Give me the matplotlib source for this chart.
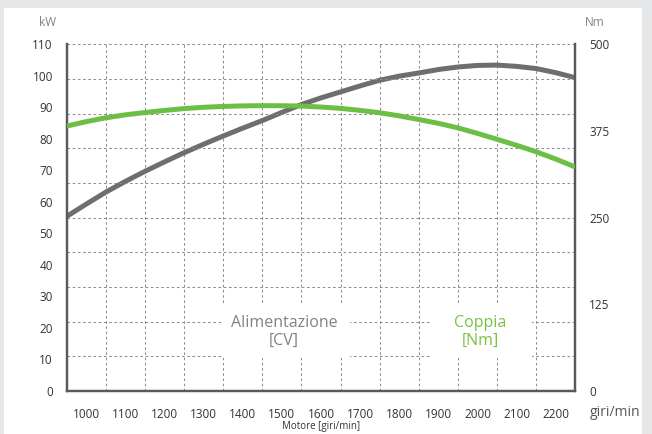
import matplotlib
matplotlib.use('Agg')
from matplotlib import pyplot as plt
from matplotlib.patches import Rectangle

plt.rcParams['font.family'] = ['Open Sans', 'DejaVu Sans']

# engine speed (giri/min)
rpm = [950, 1000, 1050, 1100, 1150, 1200, 1250, 1300, 1350, 1400, 1450,
       1500, 1550, 1600, 1650, 1700, 1750, 1800, 1850, 1900, 1950, 2000,
       2050, 2100, 2150, 2200, 2250]
# power curve, read on the kW axis
power_kw = [55.4, 59.3, 63.1, 66.5, 69.7, 72.7, 75.6, 78.3, 80.9, 83.4, 85.8,
            88.4, 90.9, 93.0, 94.9, 96.8, 98.6, 99.9, 100.9, 102.0, 102.8, 103.3,
            103.4, 103.0, 102.3, 101.0, 99.4]
# torque curve, read on the Nm axis
torque_nm = [382, 388.5, 394, 398.3, 401.6, 404.6, 407.3, 409.2, 410.4, 411.2, 411.5,
             411.4, 411, 409.5, 407.6, 404.7, 401.3, 396.8, 391.5, 386, 379.5, 371.5,
             363, 354.3, 345, 334.5, 323]

kw_ticks = list(range(0, 111, 10))
nm_ticks = [0, 125, 250, 375, 500]
rpm_ticks = list(range(1000, 2201, 100))
rpm_grid = list(range(1050, 2151, 100))
nm_grid = list(range(0, 501, 50))

GRAY = '#6d6e71'
GREEN = '#6cbf45'
TXT_GRAY = '#808285'
TXT_GREEN = '#7ac143'
SPINE = '#58595b'
GRID = '#8c8e91'

fig = plt.figure(figsize=(6.52, 4.34), dpi=100, facecolor='#e6e7e8')
fig.patches.append(Rectangle((4 / 652, 0), 638 / 652, 426 / 434,
                             transform=fig.transFigure, facecolor='white',
                             edgecolor='none', zorder=-10))

ax = fig.add_axes([66.7 / 652, 43 / 434, 508.6 / 652, 346.7 / 434])
ax2 = ax.twinx()
ax.set_facecolor('none')
ax2.set_facecolor('none')

ax.set_xlim(950, 2250)
ax.set_ylim(0, 110)
ax2.set_ylim(0, 500)

for x in rpm_grid:
    ax.axvline(x, color=GRID, lw=0.75, ls=(0, (2.5, 2.5)), zorder=0.5)
for y in nm_grid:
    ax2.axhline(y, color=GRID, lw=0.75, ls=(0, (2.5, 2.5)), zorder=0.5)

# white boxes behind the curve labels
ax2.add_patch(Rectangle((1350, 47), 324, 77, facecolor='white',
                        edgecolor='none', zorder=1))
ax2.add_patch(Rectangle((1878, 47), 261, 77, facecolor='white',
                        edgecolor='none', zorder=1))

ax.plot(rpm, power_kw, color=GRAY, lw=3.6, solid_capstyle='butt', zorder=3)
ax2.plot(rpm, torque_nm, color=GREEN, lw=3.6, solid_capstyle='butt', zorder=3)

ax2.text(1505, 85, 'Alimentazione\n[CV]', color=TXT_GRAY, fontsize=11.5,
         ha='center', va='center', linespacing=1.15, zorder=2)
ax2.text(2008, 85, 'Coppia\n[Nm]', color=TXT_GREEN, fontsize=11.5,
         ha='center', va='center', linespacing=1.15, zorder=2)

ax.set_xticks(rpm_ticks)
ax.set_yticks(kw_ticks)
ax2.set_yticks(nm_ticks)
ax.tick_params(axis='x', length=0, pad=12, labelsize=8.5, labelcolor='#333333')
ax.tick_params(axis='y', length=0, pad=10, labelsize=8.5, labelcolor='#333333')
ax2.tick_params(axis='y', length=0, pad=10, labelsize=8.5, labelcolor='#333333')

for a in (ax, ax2):
    a.spines['top'].set_visible(False)
    for side in ('left', 'right', 'bottom'):
        a.spines[side].set_color(SPINE)
        a.spines[side].set_linewidth(1.6)

fig.text(48 / 652, 1 - 22 / 434, 'kW', color=TXT_GRAY, fontsize=8.5,
         ha='center', va='center')
fig.text(595 / 652, 1 - 22 / 434, 'Nm', color=TXT_GRAY, fontsize=8.5,
         ha='center', va='center')
fig.text(615 / 652, 1 - 413 / 434, 'giri/min', color='#555555', fontsize=10,
         ha='center', va='center')
fig.text(321 / 652, 1 - 426 / 434, 'Motore [giri/min]', color='#333333',
         fontsize=7, ha='center', va='center')

fig.savefig('out.png', dpi=100, facecolor=fig.get_facecolor())
